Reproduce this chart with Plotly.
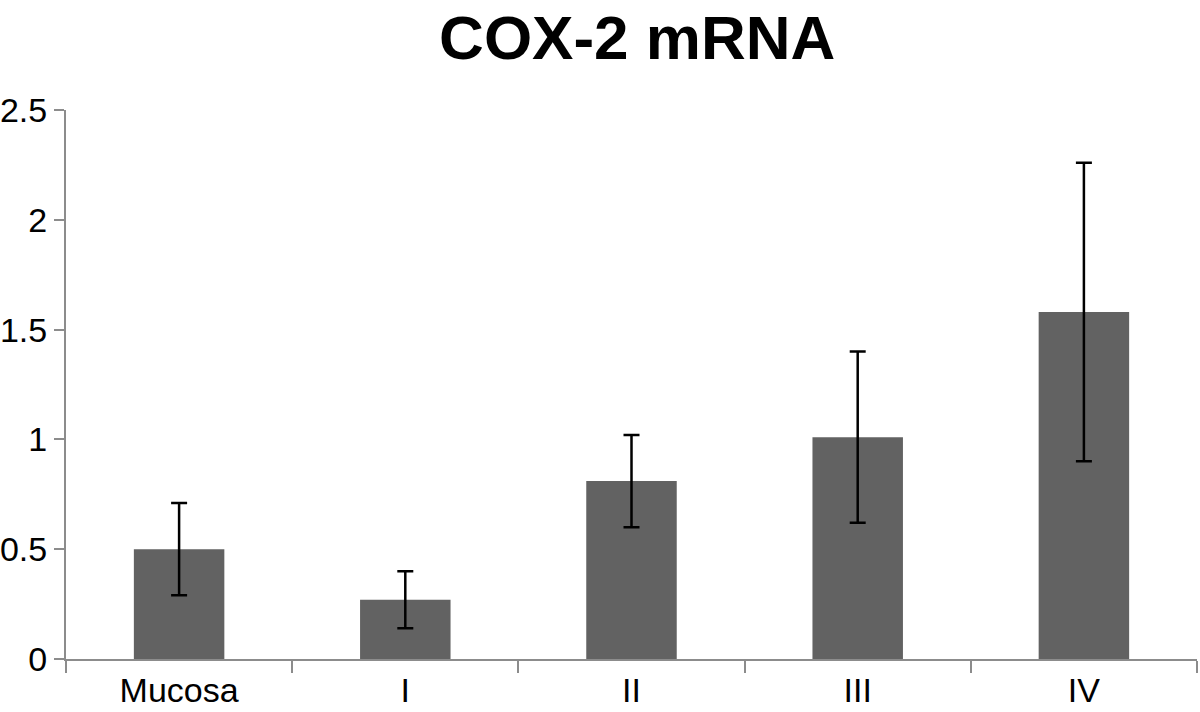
import plotly.graph_objects as go

# Стадии и значения экспрессии
stages = ["Mucosa", "I", "II", "III", "IV"]
expression = [0.50, 0.27, 0.81, 1.01, 1.58]
expression_err = [0.21, 0.13, 0.21, 0.39, 0.68]

y_ticks = [0, 0.5, 1, 1.5, 2, 2.5]
y_tick_labels = ["0", "0.5", "1", "1.5", "2", "2.5"]

fig = go.Figure()

fig.add_trace(go.Bar(
    x=stages,
    y=expression,
    marker_color="#626262",
    marker_line_width=0,
    error_y=dict(type="data", array=expression_err, visible=True,
                 color="black", thickness=2.5, width=8),
))

axis_gray = "#8c8c8c"
fig.update_layout(
    title=dict(text="<b>COX-2 mRNA</b>", x=0.531, xanchor="center",
               y=0.948, yanchor="middle",
               font=dict(family="Liberation Sans, Arial", size=62, color="black")),
    width=1200, height=712,
    margin=dict(l=66, r=3, t=110, b=53),
    plot_bgcolor="white", paper_bgcolor="white",
    bargap=0.6,
    showlegend=False,
    font=dict(family="Liberation Sans, Arial", size=34, color="black"),
    xaxis=dict(showline=True, linecolor=axis_gray, linewidth=2,
               ticks="outside", tickson="boundaries", ticklen=12,
               tickcolor=axis_gray, tickwidth=2, showgrid=False,
               automargin=False),
    yaxis=dict(range=[0, 2.5], tickvals=y_ticks, ticktext=y_tick_labels,
               showline=True, linecolor=axis_gray, linewidth=2,
               ticks="outside", ticklen=10, tickcolor=axis_gray, tickwidth=2,
               showgrid=False, zeroline=False, automargin=False),
)

# убираем отступ body, чтобы фигура стояла ровно в углу окна
fig.write_html("out.html", config={"displayModeBar": False},
               post_script="document.body.style.margin='0';")
